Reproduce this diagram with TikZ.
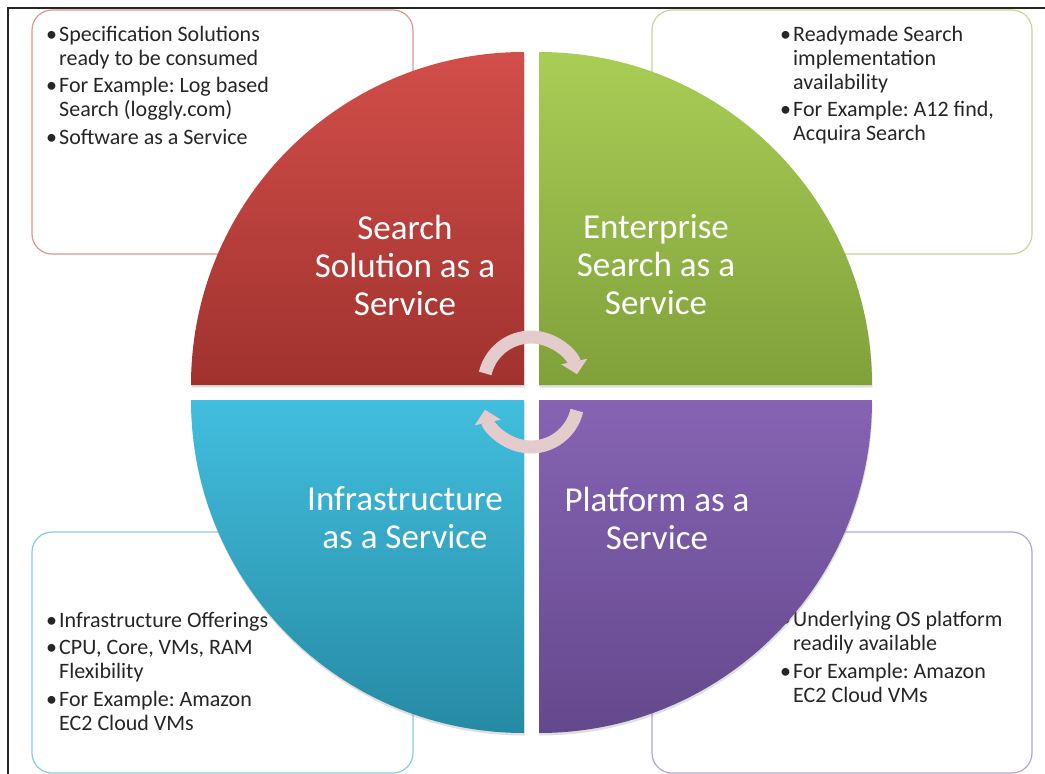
\documentclass[tikz,border=0pt]{standalone}
\usepackage{fontspec}
\setmainfont{Carlito}
\usepackage{xcolor}
\usetikzlibrary{arrows.meta, positioning, calc, shadows}

\definecolor{redtop}{RGB}{210,78,74}
\definecolor{redbot}{RGB}{160,50,46}
\definecolor{greentop}{RGB}{170,205,86}
\definecolor{greenbot}{RGB}{128,160,58}
\definecolor{cyantop}{RGB}{66,190,222}
\definecolor{cyanbot}{RGB}{38,138,164}
\definecolor{purptop}{RGB}{134,100,180}
\definecolor{purpbot}{RGB}{100,72,140}
\definecolor{arrowfill}{RGB}{228,204,204}

\newcommand{\bpt}{\makebox[13pt][l]{\textbullet}}
\newcommand{\bind}{\hspace*{13pt}}
\frenchspacing

\begin{document}
\begin{tikzpicture}[x=1pt, y=-1pt,
    infobox/.style={rounded corners=20pt, line width=1.2pt, fill=white},
    infotext/.style={anchor=north west, inner sep=0pt, align=left,
        font=\fontsize{22}{24}\selectfont, text=black!85},
    quad/.style={drop shadow={opacity=0.25, shadow xshift=0.5pt, shadow yshift=-2.5pt}},
    quadlabel/.style={align=center, inner sep=0pt, text=white,
        font=\fontsize{35}{38}\selectfont},
    cycarrow/.style={line width=13pt, draw=arrowfill, -{Triangle[width=26pt, length=13pt]}}]
    \useasboundingbox (0,0) rectangle (1045,774);
    \fill[white] (0,0) rectangle (1045,774);
    \draw[line width=2pt, black!85] (8,774) -- (8,8) -- (1045,8);

    % text boxes behind the circle
    \draw[infobox, draw={rgb,255:red,222;green,150;blue,148}] (32,10) rectangle (413,254);
    \draw[infobox, draw={rgb,255:red,196;green,214;blue,155}] (652,10) rectangle (1032,254);
    \draw[infobox, draw={rgb,255:red,140;green,202;blue,222}] (32,532) rectangle (413,773);
    \draw[infobox, draw={rgb,255:red,180;green,165;blue,210}] (652,532) rectangle (1032,773);

    \node[infotext] (saastext) at (46,26) {\bpt Specification Solutions\\
        \bind ready to be consumed\\[3.5pt]
        \bpt For Example: Log based\\
        \bind Search (loggly.com)\\[3.5pt]
        \bpt Software as a Service};
    \node[infotext] (esaastext) at (780,26) {\bpt Readymade Search\\
        \bind implementation\\
        \bind availability\\[3pt]
        \bpt For Example: A12 find,\\
        \bind Acquira Search};
    \node[infotext] (iaastext) at (46,612) {\bpt Infrastructure Offerings\\[3pt]
        \bpt CPU, Core, VMs, RAM\\
        \bind Flexibility\\[4pt]
        \bpt For Example: Amazon\\
        \bind EC2 Cloud VMs};
    \node[infotext] (paastext) at (780,611) {\bpt Underlying OS platform\\
        \bind readily available\\[4pt]
        \bpt For Example: Amazon\\
        \bind EC2 Cloud VMs};

    % the four quarters
    \shade[quad, top color=redtop, bottom color=redbot]
        (524,385) -- (191,385) arc[start angle=180, end angle=270, radius=333] -- cycle;
    \shade[quad, top color=greentop, bottom color=greenbot]
        (539,385) -- (539,52) arc[start angle=270, end angle=360, radius=333] -- cycle;
    \shade[quad, top color=cyantop, bottom color=cyanbot]
        (524,400) -- (191,400) arc[start angle=180, end angle=90, radius=333] -- cycle;
    \shade[quad, top color=purptop, bottom color=purpbot]
        (539,400) -- (872,400) arc[start angle=0, end angle=90, radius=333] -- cycle;

    \node[quadlabel] (saas) at (405,265) {Search\\Solution as a\\Service};
    \node[quadlabel] (esaas) at (656,265) {Enterprise\\Search as a\\Service};
    \node[quadlabel] (iaas) at (405,518) {Infrastructure\\as a Service};
    \node[quadlabel] (paas) at (657,518) {Platform as a\\Service};

    \coordinate (topc) at (531,384);
    \coordinate (botc) at (531,400);
    \draw[cycarrow] ($(topc)+(193:47)$) arc[start angle=193, end angle=348, radius=47];
    \draw[cycarrow] ($(botc)+(13:47)$) arc[start angle=13, end angle=168, radius=47];
\end{tikzpicture}
\end{document}
